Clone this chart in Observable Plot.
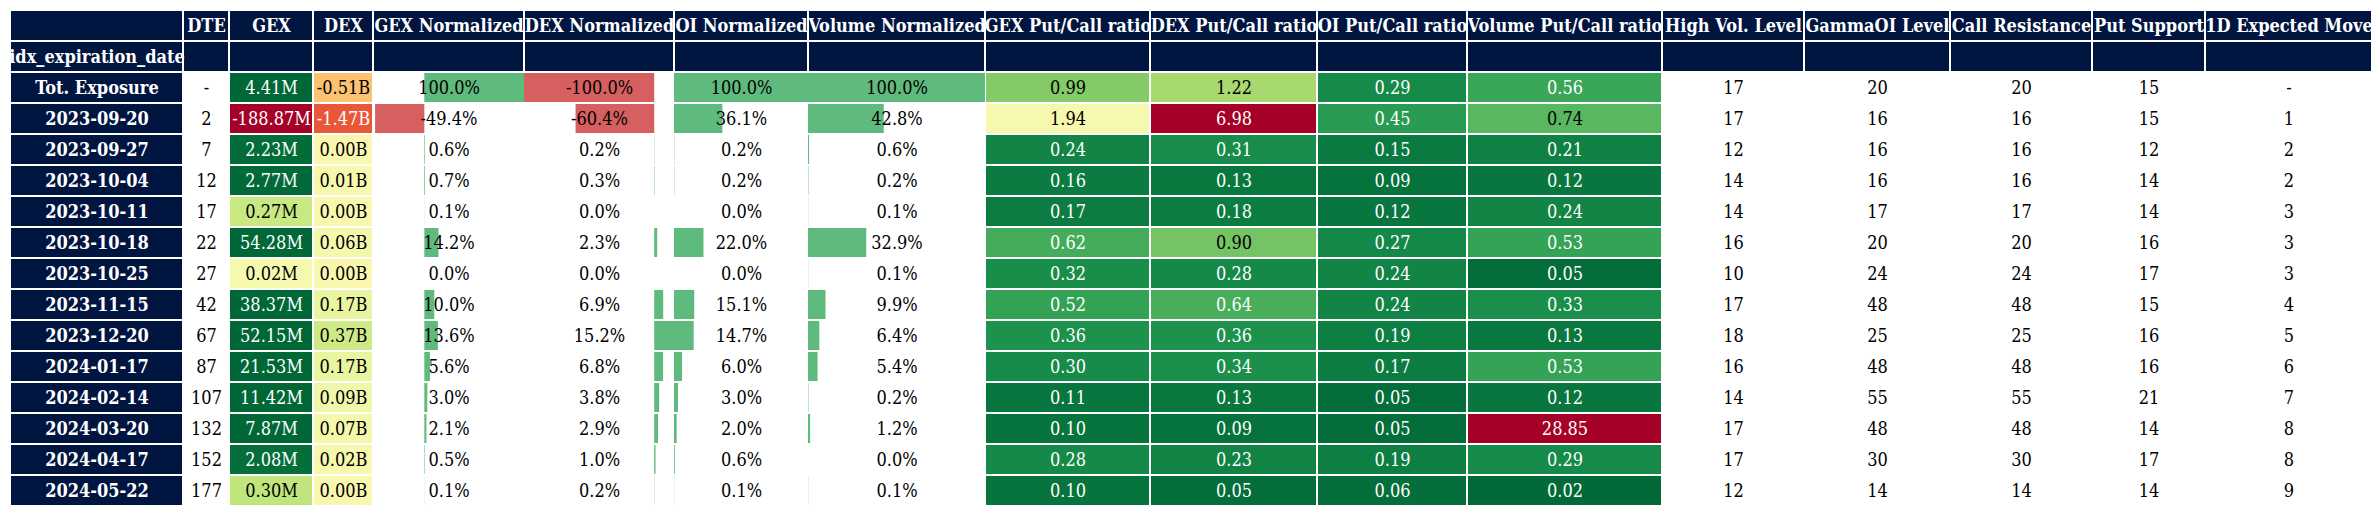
<!DOCTYPE html>
<html>
<head>
<meta charset="utf-8">
<script src="https://cdn.jsdelivr.net/npm/d3@7"></script>
<script src="https://cdn.jsdelivr.net/npm/@observablehq/plot@0.6"></script>
<style>
  body { margin: 0; background: #fff; }
</style>
</head>
<body>
<div id="chart"></div>
<script>
const headers = ["", "DTE", "GEX", "DEX", "GEX Normalized", "DEX Normalized", "OI Normalized", "Volume Normalized",
  "GEX Put/Call ratio", "DEX Put/Call ratio", "OI Put/Call ratio", "Volume Put/Call ratio",
  "High Vol. Level", "GammaOI Level", "Call Resistance", "Put Support", "1D Expected Move"];
const dates = ["Tot. Exposure", "2023-09-20", "2023-09-27", "2023-10-04", "2023-10-11", "2023-10-18", "2023-10-25",
  "2023-11-15", "2023-12-20", "2024-01-17", "2024-02-14", "2024-03-20", "2024-04-17", "2024-05-22"];
const dte = ["-", 2, 7, 12, 17, 22, 27, 42, 67, 87, 107, 132, 152, 177];
const gex = [4.41, -188.87, 2.23, 2.77, 0.27, 54.28, 0.02, 38.37, 52.15, 21.53, 11.42, 7.87, 2.08, 0.30];
const dex = [-0.51, -1.47, 0.00, 0.01, 0.00, 0.06, 0.00, 0.17, 0.37, 0.17, 0.09, 0.07, 0.02, 0.00];
const gexNorm = [100, -49.4, 0.6, 0.7, 0.1, 14.2, 0.0, 10.0, 13.6, 5.6, 3.0, 2.1, 0.5, 0.1];
const dexNorm = [-100, -60.4, 0.2, 0.3, 0.0, 2.3, 0.0, 6.9, 15.2, 6.8, 3.8, 2.9, 1.0, 0.2];
const oiNorm = [100, 36.1, 0.2, 0.2, 0.0, 22.0, 0.0, 15.1, 14.7, 6.0, 3.0, 2.0, 0.6, 0.1];
const volNorm = [100, 42.8, 0.6, 0.2, 0.1, 32.9, 0.1, 9.9, 6.4, 5.4, 0.2, 1.2, 0.0, 0.1];
const gexPC = [0.99, 1.94, 0.24, 0.16, 0.17, 0.62, 0.32, 0.52, 0.36, 0.30, 0.11, 0.10, 0.28, 0.10];
const dexPC = [1.22, 6.98, 0.31, 0.13, 0.18, 0.90, 0.28, 0.64, 0.36, 0.34, 0.13, 0.09, 0.23, 0.05];
const oiPC = [0.29, 0.45, 0.15, 0.09, 0.12, 0.27, 0.24, 0.24, 0.19, 0.17, 0.05, 0.05, 0.19, 0.06];
const volPC = [0.56, 0.74, 0.21, 0.12, 0.24, 0.53, 0.05, 0.33, 0.13, 0.53, 0.12, 28.85, 0.29, 0.02];
const highVol = [17, 17, 12, 14, 14, 16, 10, 17, 18, 16, 14, 17, 17, 12];
const gammaOI = [20, 16, 16, 16, 17, 20, 24, 48, 25, 48, 55, 48, 30, 14];
const callRes = [20, 16, 16, 16, 17, 20, 24, 48, 25, 48, 55, 48, 30, 14];
const putSup = [15, 15, 12, 14, 14, 16, 17, 15, 16, 16, 21, 14, 17, 14];
const move = ["-", 1, 2, 2, 3, 3, 3, 4, 5, 6, 7, 8, 8, 9];

// layout: column widths in px
const colW = [173, 46, 84, 60, 151, 150, 134, 177, 165, 167, 150, 195, 142, 146, 142, 113, 167];
const left0 = 10;
const edges = [left0];
colW.forEach(w => edges.push(edges[edges.length - 1] + w));

const navy = "#001540";
const font = "'DejaVu Serif Condensed', 'DejaVu Serif', serif";
const rowKeys = ["h1", "h2", ...dates];

// colour helpers
const gexT = v => 0.5 + 0.5 * Math.tanh(v / 1);
const dexT = v => 0.5 + 0.4 * Math.tanh(v / 1.2);
const pcT = v => Math.max(0, 1 - v / 4);
const textOn = c => {
  const r = d3.rgb(c);
  const l = (0.299 * r.r + 0.587 * r.g + 0.114 * r.b) / 255;
  return l < 0.55 ? "#ffffff" : "#000000";
};

const cells = [], texts = [], bars = [];
// header rows
headers.forEach((h, j) => {
  ["h1", "h2"].forEach(r => cells.push({row: r, x1: edges[j], x2: edges[j + 1], fill: navy}));
  texts.push({row: "h1", x: (edges[j] + edges[j + 1]) / 2, text: h, fill: "#fff", bold: true});
});
texts.push({row: "h2", x: (edges[0] + edges[1]) / 2, text: "idx_expiration_date", fill: "#fff", bold: true});

const heat = (col, val, t, label, i) => {
  const c = d3.interpolateRdYlGn(t);
  cells.push({row: dates[i], x1: edges[col], x2: edges[col + 1], fill: c});
  texts.push({row: dates[i], x: (edges[col] + edges[col + 1]) / 2, text: label, fill: textOn(c)});
};
const plain = (col, label, i) =>
  texts.push({row: dates[i], x: (edges[col] + edges[col + 1]) / 2, text: String(label), fill: "#000"});
const bar = (col, v, dom, i) => {
  const s = d3.scaleLinear().domain(dom).range([edges[col], edges[col + 1]]);
  if (v !== 0) bars.push({row: dates[i], x1: s(0), x2: s(v), fill: v < 0 ? "#d65f5f" : "#5fba7d"});
  plain(col, v.toFixed(1) + "%", i);
};

dates.forEach((d, i) => {
  cells.push({row: d, x1: edges[0], x2: edges[1], fill: navy});
  texts.push({row: d, x: (edges[0] + edges[1]) / 2, text: d, fill: "#fff", bold: true});
  plain(1, dte[i], i);
  heat(2, gex[i], gexT(gex[i]), gex[i].toFixed(2) + "M", i);
  heat(3, dex[i], dexT(dex[i]), dex[i].toFixed(2) + "B", i);
  bar(4, gexNorm[i], [-51.5, 100], i);
  bar(5, dexNorm[i], [-100, 15.2], i);
  bar(6, oiNorm[i], [0, 100], i);
  bar(7, volNorm[i], [0, 100], i);
  heat(8, gexPC[i], pcT(gexPC[i]), gexPC[i].toFixed(2), i);
  heat(9, dexPC[i], pcT(dexPC[i]), dexPC[i].toFixed(2), i);
  heat(10, oiPC[i], pcT(oiPC[i]), oiPC[i].toFixed(2), i);
  heat(11, volPC[i], pcT(volPC[i]), volPC[i].toFixed(2), i);
  plain(12, highVol[i], i);
  plain(13, gammaOI[i], i);
  plain(14, callRes[i], i);
  plain(15, putSup[i], i);
  plain(16, move[i], i);
});
// bars drawn before text, texts order: bars under labels
const chart = Plot.plot({
  width: 2376,
  height: 514,
  margin: 0,
  marginTop: 10,
  marginBottom: 8,
  x: {domain: [0, 2376], range: [0, 2376], axis: null},
  y: {domain: rowKeys, padding: 0, axis: null},
  style: {fontFamily: font},
  marks: [
    Plot.barX(cells, {x1: "x1", x2: "x2", y: "row", fill: "fill", inset: 1}),
    Plot.barX(bars, {x1: "x1", x2: "x2", y: "row", fill: "fill", insetTop: 1, insetBottom: 1}),
    Plot.text(texts.filter(t => !t.bold), {x: "x", y: "row", text: "text", fill: "fill", fontSize: 18}),
    Plot.text(texts.filter(t => t.bold), {x: "x", y: "row", text: "text", fill: "fill", fontSize: 18, fontWeight: "bold"})
  ]
});
d3.select('#chart').append(() => chart);
</script>
</body>
</html>
